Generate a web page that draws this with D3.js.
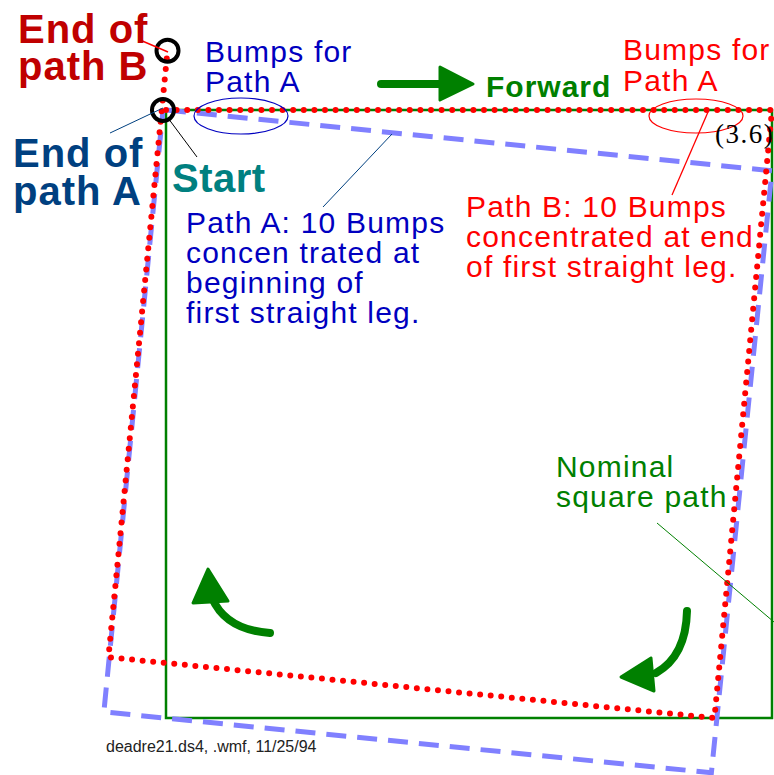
<!DOCTYPE html>
<html>
<head>
<meta charset="utf-8">
<script src="https://cdn.jsdelivr.net/npm/d3@7"></script>
<style>
body { margin: 0; background: #fff; }
text { font-family: "Liberation Sans", Arial, sans-serif; }
</style>
</head>
<body>
<div id="chart"></div>
<script>
// corners of the nominal square and of the two measured paths (units = side/4)
var squareX = [0, 4, 4, 0, 0];
var squareY = [0, 0, 4, 4, 0];
var pathAX = [0, 4.0, 3.6, -0.41, -0.02];
var pathAY = [0, 0.4, 4.36, 3.96, 0];
var pathBX = [0, 4.0, 3.62, -0.38, 0.01];
var pathBY = [0, 0, 4.0, 3.6, -0.39];
var legLabel = "(3.6)";

var svg = d3.select("#chart").append("svg")
			.attr("width", 774)
			.attr("height", 775);

var x = d3.scaleLinear().domain([0, 4]).range([166, 772]);
var y = d3.scaleLinear().domain([0, 4]).range([110, 718]);

function pts(xs, ys){
	return xs.map(function(d, i){ return [d, ys[i]]; });
}

var line = d3.line()
			 .x(function(d){ return x(d[0]); })
			 .y(function(d){ return y(d[1]); });

// nominal square
svg.append("path")
   .attr("d", line(pts(squareX, squareY)))
   .attr("fill", "none")
   .attr("stroke", "#008000")
   .attr("stroke-width", 2.5);

// path A (dashed)
svg.append("path")
   .attr("d", line(pts(pathAX, pathAY)))
   .attr("fill", "none")
   .attr("stroke", "#8080ff")
   .attr("stroke-width", 5)
   .attr("stroke-dasharray", "20 11");

// path B (dotted)
svg.append("path")
   .attr("d", line(pts(pathBX, pathBY)))
   .attr("fill", "none")
   .attr("stroke", "#ff0000")
   .attr("stroke-width", 6)
   .attr("stroke-linecap", "round")
   .attr("stroke-dasharray", "0 10.6");

// end circles
var ends = [[pathBX[4], pathBY[4]], [pathAX[4], pathAY[4]]];
svg.selectAll(".endc")
   .data(ends)
   .enter()
   .append("circle")
   .attr("class", "endc")
   .attr("cx", function(d){ return x(d[0]); })
   .attr("cy", function(d){ return y(d[1]); })
   .attr("r", 11)
   .attr("fill", "none")
   .attr("stroke", "black")
   .attr("stroke-width", 4);

// leader lines
var leaders = [
	[140, 40, 168, 52, "#ff0000", 1.5],
	[110, 133, 163, 108, "#004080", 1],
	[168, 118, 197, 157, "black", 1],
	[323, 207, 392, 134, "#004080", 1],
	[708, 112, 672, 195, "#ff0000", 1.3],
	[657, 523, 774, 622, "#008000", 1]
];
svg.selectAll(".lead")
   .data(leaders)
   .enter()
   .append("line")
   .attr("x1", function(d){ return d[0]; })
   .attr("y1", function(d){ return d[1]; })
   .attr("x2", function(d){ return d[2]; })
   .attr("y2", function(d){ return d[3]; })
   .attr("stroke", function(d){ return d[4]; })
   .attr("stroke-width", function(d){ return d[5]; });

// ellipses round the bumps
svg.append("ellipse")
   .attr("cx", 241).attr("cy", 116).attr("rx", 47).attr("ry", 18)
   .attr("fill", "none").attr("stroke", "#0000c0").attr("stroke-width", 1.2);
svg.append("ellipse")
   .attr("cx", 696).attr("cy", 116).attr("rx", 47).attr("ry", 17)
   .attr("fill", "none").attr("stroke", "#ff0000").attr("stroke-width", 1.2);

// forward arrow
svg.append("line")
   .attr("x1", 381).attr("y1", 84).attr("x2", 445).attr("y2", 84)
   .attr("stroke", "#008000").attr("stroke-width", 8).attr("stroke-linecap", "round");
svg.append("path")
   .attr("d", "M440,67 L473,84 L440,100 Z")
   .attr("fill", "#008000").attr("stroke", "#008000")
   .attr("stroke-width", 3).attr("stroke-linejoin", "round");

// curved turning arrows
svg.append("path")
   .attr("d", "M270,633 Q226,630 212,598")
   .attr("fill", "none").attr("stroke", "#008000").attr("stroke-width", 8).attr("stroke-linecap", "round");
svg.append("path")
   .attr("d", "M193,603 L208,569 L228,601 Z")
   .attr("fill", "#008000").attr("stroke", "#008000")
   .attr("stroke-width", 3).attr("stroke-linejoin", "round");
svg.append("path")
   .attr("d", "M687,611 Q686,656 656,673")
   .attr("fill", "none").attr("stroke", "#008000").attr("stroke-width", 8).attr("stroke-linecap", "round");
svg.append("path")
   .attr("d", "M651,658 L621,677 L654,691 Z")
   .attr("fill", "#008000").attr("stroke", "#008000")
   .attr("stroke-width", 3).attr("stroke-linejoin", "round");

// text blocks: [x, first baseline, line step, size, weight, colour, spacing, lines]
var labels = [
	[18, 43, 37, 40, "bold", "#c00000", 1, ["End of", "path B"]],
	[13, 167, 38, 40, "bold", "#004080", 1, ["End of", "path A"]],
	[172, 192, 0, 40, "bold", "#008080", 0.5, ["Start"]],
	[205, 62, 30, 30, "normal", "#0000c0", 1.2, ["Bumps for", "Path A"]],
	[486, 97, 0, 30, "bold", "#008000", 1, ["Forward"]],
	[623, 60, 31, 30, "normal", "#ff0000", 1.2, ["Bumps for", "Path A"]],
	[466, 217, 30, 30, "normal", "#ff0000", 1.2, ["Path B: 10 Bumps", "concentrated at end", "of first straight leg."]],
	[186, 233, 30, 30, "normal", "#0000c0", 1.2, ["Path A: 10 Bumps", "concen trated at", "beginning of", "first straight leg."]],
	[556, 477, 30, 30, "normal", "#008000", 1.2, ["Nominal", "square path"]],
	[106, 752, 0, 16, "normal", "#222", 0, ["deadre21.ds4, .wmf, 11/25/94"]]
];

labels.forEach(function(lb){
	var t = svg.append("text")
			   .attr("x", lb[0])
			   .attr("y", lb[1])
			   .attr("font-size", lb[3])
			   .attr("font-weight", lb[4])
			   .attr("letter-spacing", lb[6])
			   .attr("fill", lb[5]);
	lb[7].forEach(function(s, i){
		t.append("tspan")
		 .attr("x", lb[0])
		 .attr("y", lb[1] + i * lb[2])
		 .text(s);
	});
});

svg.append("text")
   .attr("x", 715).attr("y", 143)
   .attr("font-size", 27)
   .attr("letter-spacing", 1.5)
   .style("font-family", "'Liberation Serif', 'Times New Roman', serif")
   .attr("fill", "black")
   .text(legLabel);
</script>
</body>
</html>
